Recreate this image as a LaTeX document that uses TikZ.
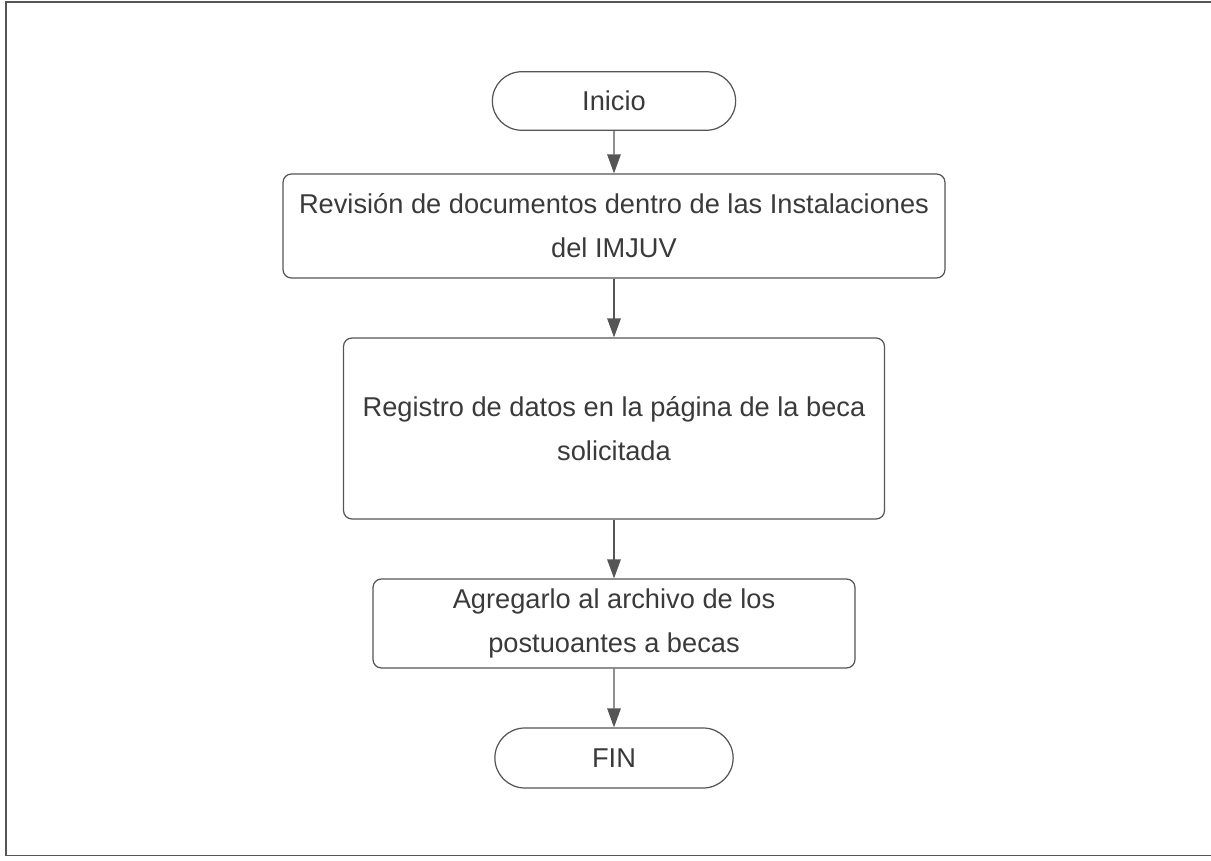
\documentclass[tikz,border=0pt]{standalone}
\usepackage{fontspec}
\setmainfont{Liberation Sans}
\usetikzlibrary{shapes.misc,arrows.meta}

\definecolor{linegray}{HTML}{555555}
\definecolor{textgray}{HTML}{3A3A3A}

\tikzstyle{startstop} = [rounded rectangle, minimum width=5.1cm, minimum height=1.17cm, draw=linegray, line width=0.7pt, text=textgray, font=\fontsize{15.5}{25}\selectfont]
\tikzstyle{process} = [rectangle, rounded corners=0.17cm, align=center, draw=linegray, line width=0.7pt, text=textgray, font=\fontsize{15.5}{25}\selectfont]
\tikzstyle{arrow} = [draw=linegray, line width=0.8pt, -{Triangle[length=0.38cm,width=0.27cm]}]

\begin{document}
\begin{tikzpicture}[node distance=2.5cm]
\useasboundingbox (0,0) rectangle (24.22,17.2);

% marco
\draw[linegray, line width=1pt] (24.22,17.16) -- (0.12,17.16) -- (0.12,0.09) -- (24.22,0.09);

\node (inicio) [startstop] at (12.28,15.18) {Inicio};
\node (revision) [process, below of=inicio, minimum width=13.24cm, minimum height=2.08cm] {Revisión de documentos dentro de las Instalaciones\\del IMJUV};
\node (registro) [process, below of=revision, yshift=-1.55cm, minimum width=10.82cm, minimum height=3.62cm] {Registro de datos en la página de la beca\\solicitada};
\node (agregar) [process, below of=registro, yshift=-1.4cm, minimum width=9.64cm, minimum height=1.78cm] {Agregarlo al archivo de los\\postuoantes a becas};
\node (fin) [startstop, below of=agregar, yshift=-0.19cm, minimum width=5.0cm, minimum height=1.2cm] {FIN};

\draw [arrow] (inicio) -- (revision);
\draw [arrow] (revision) -- (registro);
\draw [arrow] (registro) -- (agregar);
\draw [arrow] (agregar) -- (fin);

\end{tikzpicture}
\end{document}
